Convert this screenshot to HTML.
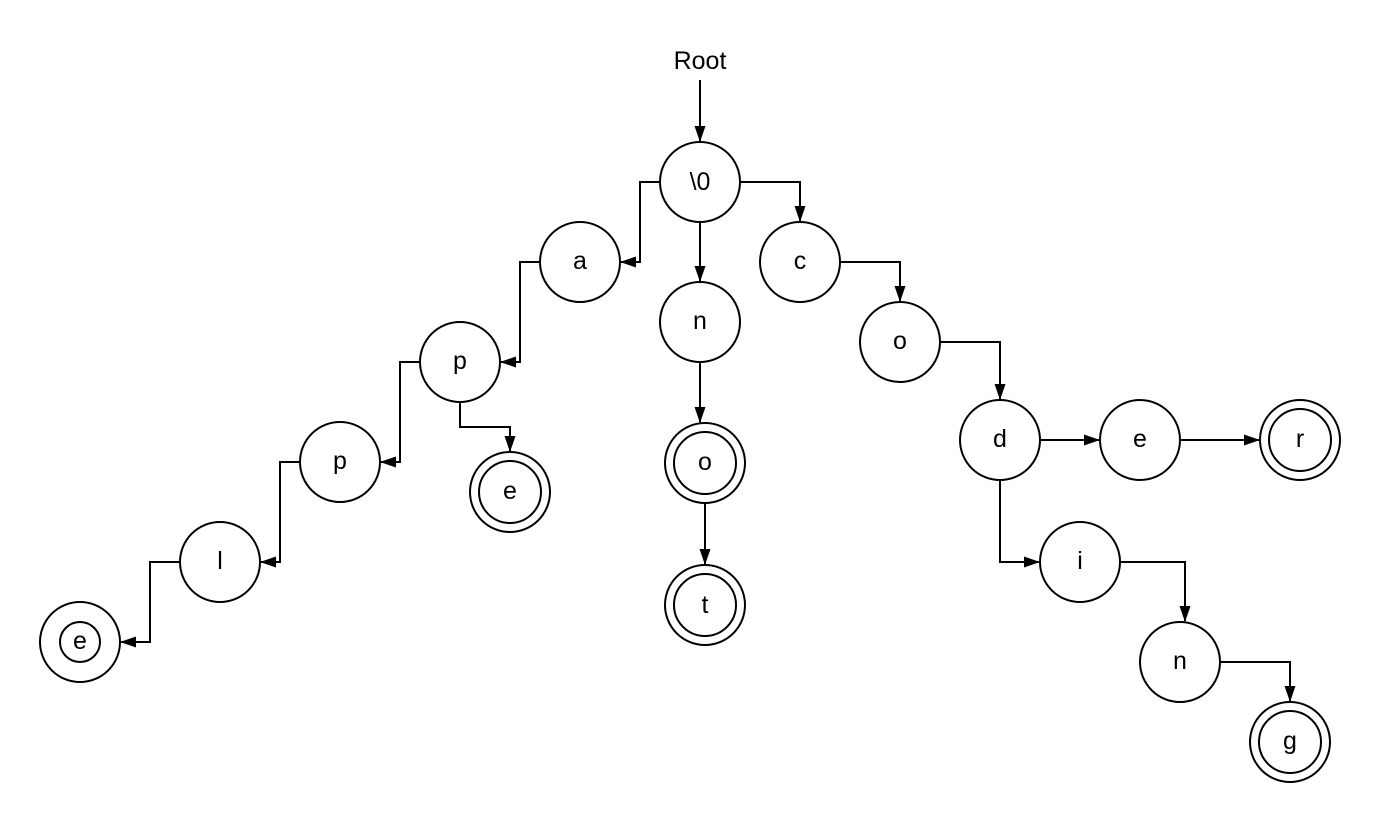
<!DOCTYPE html>
<html><head><meta charset="utf-8"><style>
html,body{margin:0;padding:0;background:#fff;}
svg{display:block;}
text{font-family:"Liberation Sans",sans-serif;font-size:25px;fill:#000;text-anchor:middle;dominant-baseline:central;}
</style></head><body>
<svg width="1380" height="822" viewBox="0 0 1380 822" xmlns="http://www.w3.org/2000/svg">
<defs>
<marker id="ah" markerWidth="16" markerHeight="12" refX="15" refY="6" orient="auto" markerUnits="userSpaceOnUse">
<path d="M0,0.5 L16,6 L0,11.5 Z" fill="#000"/>
</marker>
</defs>
<g fill="none" stroke="#000" stroke-width="2" marker-end="url(#ah)">
<path d="M700,80 V141"/>
<path d="M660,182 H640 V262 H621"/>
<path d="M700,222 V281"/>
<path d="M740,182 H800 V221"/>
<path d="M540,262 H520 V362 H501"/>
<path d="M420,362 H400 V462 H381"/>
<path d="M460,402 V427 H510 V451"/>
<path d="M300,462 H280 V562 H261"/>
<path d="M180,562 H150 V642 H121"/>
<path d="M700,362 V422"/>
<path d="M705,503 V564"/>
<path d="M840,262 H900 V301"/>
<path d="M940,342 H1000 V399"/>
<path d="M1040,440 H1099"/>
<path d="M1180,440 H1259"/>
<path d="M1000,480 V562 H1039"/>
<path d="M1120,562 H1185 V621"/>
<path d="M1220,662 H1290 V701"/>
</g>
<g fill="#fff" stroke="#000" stroke-width="2">
<circle cx="700" cy="182" r="40"/>
<circle cx="580" cy="262" r="40"/>
<circle cx="700" cy="322" r="40"/>
<circle cx="800" cy="262" r="40"/>
<circle cx="460" cy="362" r="40"/>
<circle cx="900" cy="342" r="40"/>
<circle cx="340" cy="462" r="40"/>
<circle cx="510" cy="492" r="40"/><circle cx="510" cy="492" r="31"/>
<circle cx="705" cy="463" r="40"/><circle cx="705" cy="463" r="31"/>
<circle cx="705" cy="605" r="40"/><circle cx="705" cy="605" r="31"/>
<circle cx="1000" cy="440" r="40"/>
<circle cx="1140" cy="440" r="40"/>
<circle cx="1300" cy="440" r="40"/><circle cx="1300" cy="440" r="31"/>
<circle cx="220" cy="562" r="40"/>
<circle cx="80" cy="642" r="40"/><circle cx="80" cy="642" r="20"/>
<circle cx="1080" cy="562" r="40"/>
<circle cx="1180" cy="662" r="40"/>
<circle cx="1290" cy="742" r="40"/><circle cx="1290" cy="742" r="31"/>
</g>
<text x="700" y="61">Root</text>
<text x="700" y="182">\0</text>
<text x="580" y="261">a</text>
<text x="700" y="321">n</text>
<text x="800" y="261">c</text>
<text x="460" y="361">p</text>
<text x="900" y="341">o</text>
<text x="340" y="461">p</text>
<text x="510" y="491">e</text>
<text x="705" y="462">o</text>
<text x="705" y="605">t</text>
<text x="1000" y="439">d</text>
<text x="1140" y="439">e</text>
<text x="1300" y="439">r</text>
<text x="220" y="561">l</text>
<text x="80" y="641">e</text>
<text x="1080" y="561">i</text>
<text x="1180" y="661">n</text>
<text x="1290" y="741">g</text>
</svg>
</body></html>
